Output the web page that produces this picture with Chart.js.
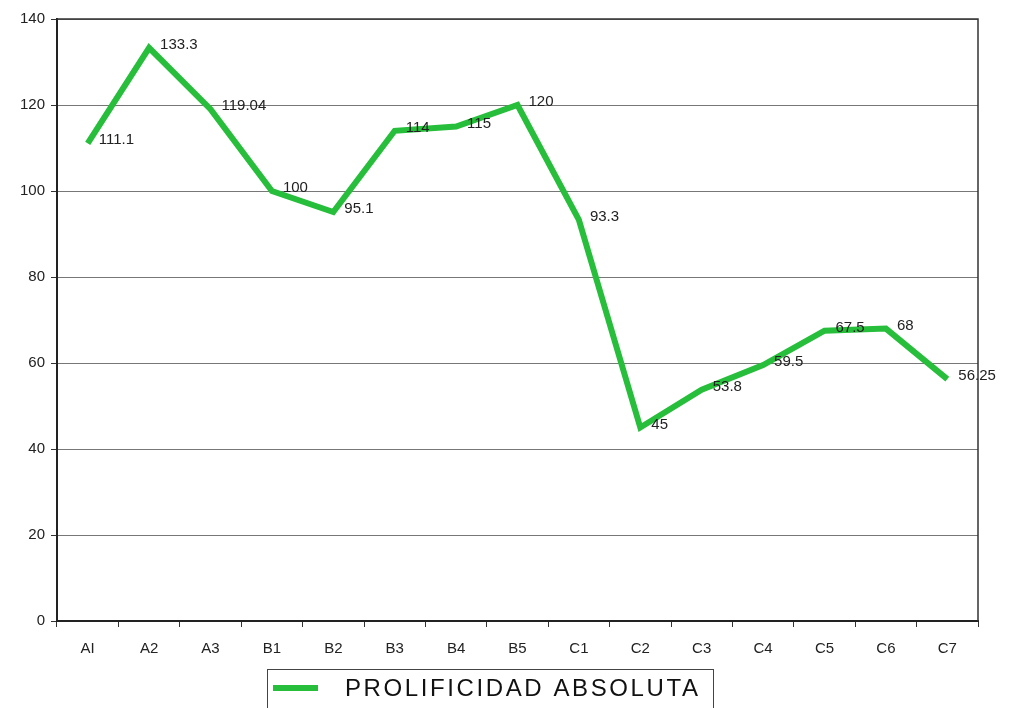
<!DOCTYPE html>
<html>
<head>
<meta charset="utf-8">
<script src="https://cdn.jsdelivr.net/npm/chart.js@4"></script>
<style>
    html, body { margin: 0; padding: 0; background: #fff; }
    #wrap { width: 1013px; height: 708px; }
</style>
</head>
<body>
<div id="wrap"><canvas id="prolChart" width="1013" height="708"></canvas></div>
<script>
// Chart data
const categories = ['AI', 'A2', 'A3', 'B1', 'B2', 'B3', 'B4', 'B5', 'C1', 'C2', 'C3', 'C4', 'C5', 'C6', 'C7'];
const prolificidad = [111.1, 133.3, 119.04, 100, 95.1, 114, 115, 120, 93.3, 45, 53.8, 59.5, 67.5, 68, 56.25];
const valueLabels = ['111.1', '133.3', '119.04', '100', '95.1', '114', '115', '120', '93.3', '45', '53.8', '59.5', '67.5', '68', '56.25'];
const yTicks = [0, 20, 40, 60, 80, 100, 120, 140];
const seriesName = 'PROLIFICIDAD ABSOLUTA';

const lineColor = 'rgb(38, 190, 58)';
const fontFamily = 'Arial, "Liberation Sans", sans-serif';

// Frame round the plot area + value labels + legend box
const framePlugin = {
    id: 'frame',
    afterDatasetsDraw(chart) {
        const { ctx, chartArea: a } = chart;
        ctx.save();
        ctx.strokeStyle = '#333';
        ctx.lineWidth = 1.5;
        ctx.beginPath();
        ctx.moveTo(a.left, a.top);
        ctx.lineTo(a.right, a.top);
        ctx.lineTo(a.right, a.bottom);
        ctx.stroke();

        // value labels
        const meta = chart.getDatasetMeta(0);
        ctx.fillStyle = '#222';
        ctx.font = '15px ' + fontFamily;
        ctx.textAlign = 'left';
        ctx.textBaseline = 'middle';
        meta.data.forEach((pt, i) => {
            ctx.fillText(valueLabels[i], pt.x + 11, pt.y - 3);
        });
        ctx.restore();
    },
    afterDraw(chart) {
        const { ctx } = chart;
        ctx.save();
        ctx.strokeStyle = '#444';
        ctx.lineWidth = 1;
        ctx.strokeRect(267.5, 669.5, 446, 50);
        ctx.strokeStyle = lineColor;
        ctx.lineWidth = 6;
        ctx.beginPath();
        ctx.moveTo(273, 688);
        ctx.lineTo(318, 688);
        ctx.stroke();
        ctx.fillStyle = '#111';
        ctx.font = '24px ' + fontFamily;
        ctx.letterSpacing = '2.6px';
        ctx.textAlign = 'left';
        ctx.textBaseline = 'middle';
        ctx.fillText(chart.data.datasets[0].label, 345, 689);
        ctx.restore();
    }
};

new Chart(document.getElementById('prolChart'), {
    type: 'line',
    data: {
        labels: categories,
        datasets: [{
            label: seriesName,
            data: prolificidad,
            borderColor: lineColor,
            borderWidth: 6,
            borderJoinStyle: 'miter',
            pointRadius: 0,
            tension: 0,
            fill: false
        }]
    },
    options: {
        responsive: false,
        animation: false,
        layout: { padding: { left: 0, right: 35, top: 19, bottom: 0 } },
        plugins: {
            legend: { display: false },
            tooltip: { enabled: false }
        },
        scales: {
            x: {
                offset: true,
                grid: {
                    offset: true,
                    drawOnChartArea: false,
                    drawTicks: true,
                    tickLength: 6,
                    color: '#333'
                },
                border: { color: '#222', width: 2 },
                ticks: {
                    color: '#222',
                    font: { size: 15, family: fontFamily },
                    padding: 13,
                    maxRotation: 0,
                    autoSkip: false
                },
                afterFit(scale) { scale.height = 87; }
            },
            y: {
                min: 0,
                max: 140,
                afterBuildTicks(scale) {
                    scale.ticks = yTicks.map(v => ({ value: v }));
                },
                grid: {
                    color: '#777',
                    lineWidth: 1,
                    tickLength: 6,
                    tickColor: '#333'
                },
                border: { color: '#222', width: 2 },
                ticks: {
                    color: '#222',
                    font: { size: 15, family: fontFamily },
                    padding: 6
                },
                afterFit(scale) { scale.width = 57; }
            }
        }
    },
    plugins: [framePlugin]
});
</script>
</body>
</html>
